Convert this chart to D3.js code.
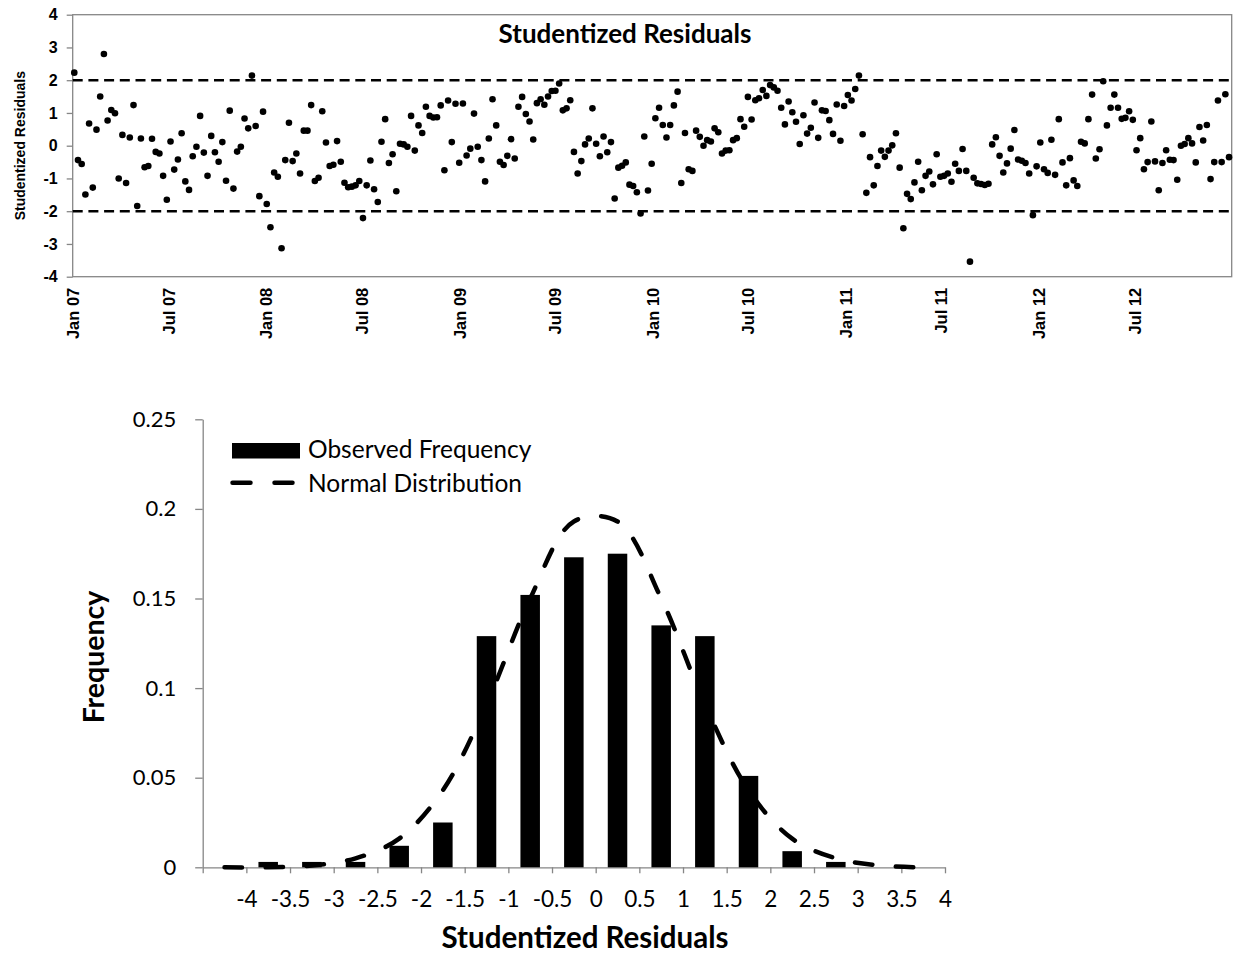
<!DOCTYPE html>
<html>
<head>
<meta charset="utf-8">
<script src="https://cdn.jsdelivr.net/npm/d3@7"></script>
<style>
  body { margin: 0; background: #fff; }
  svg { display: block; }
</style>
</head>
<body>
<div id="chart"></div>
<script>
// weekly studentized residuals, first week starting 4 Jan 2007
const firstWeek = "2007-01-04";
const residuals = [
  2.23, -0.44, -0.56, -1.49, 0.68, -1.28, 0.49, 1.50, 2.80, 0.77,
  1.09, 0.99, -1.00, 0.33, -1.14, 0.25, 1.24, -1.84, 0.22, -0.66,
  -0.62, 0.21, -0.19, -0.24, -0.92, -1.65, 0.13, -0.73, -0.42, 0.38,
  -1.09, -1.35, -0.32, -0.03, 0.91, -0.21, -0.92, 0.30, -0.20, -0.49,
  0.11, -1.07, 1.07, -1.31, -0.18, -0.03, 0.83, 0.53, 2.14, 0.60,
  -1.54, 1.04, -1.78, -2.49, -0.82, -0.95, -3.13, -0.44, 0.70, -0.47,
  -0.24, -0.85, 0.46, 0.46, 1.24, -1.08, -0.98, 1.05, 0.10, -0.62,
  -0.58, 0.14, -0.49, -1.13, -1.27, -1.25, -1.21, -1.08, -2.21, -1.21,
  -0.45, -1.33, -1.72, 0.12, 0.81, -0.53, -0.26, -1.39, 0.06, 0.04,
  -0.03, 0.91, -0.15, 0.62, 0.39, 1.19, 0.91, 0.86, 0.87, 1.23,
  -0.75, 1.38, 0.11, 1.28, -0.52, 1.29, -0.30, -0.09, 0.98, -0.03,
  -0.44, -1.09, 0.22, 1.42, 0.62, -0.49, -0.59, -0.31, 0.20, -0.39,
  1.19, 1.49, 0.97, 0.74, 0.19, 1.30, 1.42, 1.25, 1.50, 1.67,
  1.68, 1.90, 1.08, 1.14, 1.39, -0.19, -0.85, -0.47, 0.04, 0.22,
  1.14, 0.06, -0.32, 0.28, -0.20, 0.11, -1.61, -0.67, -0.61, -0.51,
  -1.19, -1.23, -1.42, -2.07, 0.28, -1.37, -0.55, 0.84, 1.16, 0.63,
  0.25, 0.63, 1.23, 1.65, -1.14, 0.39, -0.72, -0.77, 0.46, 0.27,
  0.00, 0.17, 0.13, 0.53, 0.41, -0.24, -0.15, -0.14, 0.17, 0.23,
  0.81, 0.58, 1.49, 0.80, 1.39, 1.45, 1.70, 1.52, 1.85, 1.78,
  1.68, 1.16, 0.65, 1.35, 1.02, 0.73, 0.05, 0.93, 0.37, 0.55,
  1.32, 0.24, 1.08, 1.06, 0.78, 0.36, 1.26, 0.15, 1.21, 1.55,
  1.38, 1.73, 2.14, 0.35, -1.44, -0.35, -1.21, -0.62, -0.15, -0.34,
  -0.15, 0.01, 0.38, -0.67, -2.52, -1.47, -1.63, -1.12, -0.49, -1.36,
  -0.92, -0.79, -1.18, -0.26, -0.95, -0.92, -0.85, -1.10, -0.55, -0.77,
  -0.10, -0.77, -3.54, -0.98, -1.15, -1.17, -1.20, -1.16, 0.04, 0.26,
  -0.31, -0.82, -0.54, -0.09, 0.48, -0.42, -0.46, -0.53, -0.85, -2.12,
  -0.63, 0.10, -0.72, -0.83, 0.18, -0.89, 0.81, -0.51, -1.21, -0.38,
  -1.06, -1.23, 0.12, 0.07, 0.81, 1.56, -0.39, -0.11, 1.97, 0.62,
  1.16, 1.56, 1.16, 0.82, 0.85, 1.05, 0.79, -0.14, 0.23, -0.72,
  -0.50, 0.74, -0.48, -1.36, -0.53, -0.14, -0.43, -0.44, -1.04, 0.00,
  0.05, 0.23, 0.07, -0.51, 0.57, 0.16, 0.63, -1.02, -0.50, 1.38,
  -0.50, 1.57, -0.35
];
const residTicks = [-4, -3, -2, -1, 0, 1, 2, 3, 4];
const limits = [-2, 2];

// histogram of the residuals
const binMids = [-4.25, -3.75, -3.25, -2.75, -2.25, -1.75, -1.25, -0.75, -0.25,
                 0.25, 0.75, 1.25, 1.75, 2.25, 2.75, 3.25, 3.75];
const observedFreq = [0, 0.003, 0.003, 0.003, 0.012, 0.025, 0.129, 0.152, 0.173,
                      0.175, 0.135, 0.129, 0.051, 0.009, 0.003, 0, 0];
const normalFreq = [0.000, 0.000, 0.001, 0.005, 0.016, 0.043, 0.091, 0.150, 0.193,
                    0.193, 0.150, 0.091, 0.043, 0.016, 0.005, 0.001, 0.000];
const binEdges = [-4.5, -4, -3.5, -3, -2.5, -2, -1.5, -1, -0.5, 0,
                  0.5, 1, 1.5, 2, 2.5, 3, 3.5, 4];
const freqTicks = [0, 0.05, 0.1, 0.15, 0.2, 0.25];

const axisGrey = "#868686";
const arial = "'Liberation Sans', Arial, sans-serif";
const calibri = "Lato, 'Open Sans', sans-serif";

const svg = d3.select("#chart")
  .append("svg")
  .attr("width", 1238)
  .attr("height", 956)
  .style("background", "#fff");

// ---------- top: residuals over time ----------
const parseDate = d3.timeParse("%Y-%m-%d");
const start = parseDate(firstWeek);
const series = residuals.map((v, i) => ({ date: d3.timeWeek.offset(start, i), value: v }));

const tStart = new Date(2007, 0, 1);
const tEnd = new Date(2013, 0, 1);
const xTime = d3.scaleTime().domain([tStart, tEnd]).range([72.7, 1231.7]);
const yRes = d3.scaleLinear().domain([-4, 4]).range([276.7, 14.7]);

const topChart = svg.append("g").attr("class", "top-chart");

topChart.append("rect")
  .attr("x", xTime.range()[0])
  .attr("y", yRes.range()[1])
  .attr("width", xTime.range()[1] - xTime.range()[0])
  .attr("height", yRes.range()[0] - yRes.range()[1])
  .attr("fill", "none")
  .attr("stroke", axisGrey)
  .attr("stroke-width", 1.3);

const yAxisTop = topChart.append("g")
  .attr("transform", `translate(${xTime.range()[0]},0)`)
  .call(d3.axisLeft(yRes).tickValues(residTicks).tickSize(6).tickSizeOuter(0)
    .tickPadding(9).tickFormat(d => String(d)));
yAxisTop.select(".domain").remove();
yAxisTop.selectAll("line").attr("stroke", axisGrey).attr("stroke-width", 1.3);
yAxisTop.selectAll("text")
  .attr("font-family", arial).attr("font-weight", "bold").attr("font-size", 16).attr("fill", "#000");

const monthTicks = xTime.ticks(d3.timeMonth.every(6)).filter(d => d < tEnd);
const xAxisTop = topChart.append("g")
  .attr("transform", `translate(0,${yRes.range()[0]})`)
  .call(d3.axisBottom(xTime).tickValues(monthTicks).tickSize(0)
    .tickFormat(d3.timeFormat("%b %y")));
xAxisTop.select(".domain").remove();
xAxisTop.selectAll("text")
  .attr("transform", "rotate(-90)")
  .attr("text-anchor", "end")
  .attr("x", -11)
  .attr("y", 0)
  .attr("dy", "0.36em")
  .attr("font-family", arial).attr("font-weight", "bold").attr("font-size", 16.5).attr("fill", "#000");

topChart.selectAll("line.limit")
  .data(limits)
  .enter()
  .append("line")
  .attr("class", "limit")
  .attr("x1", xTime.range()[0])
  .attr("x2", xTime.range()[1])
  .attr("y1", d => yRes(d))
  .attr("y2", d => yRes(d))
  .attr("stroke", "#000")
  .attr("stroke-width", 2.5)
  .attr("stroke-dasharray", "10,5.7");

topChart.selectAll("circle")
  .data(series)
  .enter()
  .append("circle")
  .attr("cx", d => xTime(d.date))
  .attr("cy", d => yRes(d.value))
  .attr("r", 3.3)
  .attr("fill", "#000");

topChart.append("text")
  .attr("x", 625)
  .attr("y", 43)
  .attr("text-anchor", "middle")
  .attr("font-family", calibri).attr("font-weight", "bold").attr("font-size", 26)
  .text("Studentized Residuals");

topChart.append("text")
  .attr("transform", `translate(25,${yRes(0)}) rotate(-90)`)
  .attr("text-anchor", "middle")
  .attr("font-family", arial).attr("font-weight", "bold").attr("font-size", 14)
  .text("Studentized Residuals");

// ---------- bottom: histogram vs normal ----------
const xRes = d3.scaleLinear().domain([-4.5, 4]).range([202.7, 945]);
const yFreq = d3.scaleLinear().domain([0, 0.25]).range([867.3, 419.3]);
const barWidth = 19.5;

const histChart = svg.append("g").attr("class", "hist-chart");

const yAxisBottom = histChart.append("g")
  .attr("transform", `translate(${xRes.range()[0]},0)`)
  .call(d3.axisLeft(yFreq).tickValues(freqTicks).tickSize(7.5).tickSizeOuter(0)
    .tickPadding(19).tickFormat(d => String(d)));
yAxisBottom.selectAll("path, line").attr("stroke", axisGrey).attr("stroke-width", 1.3);
yAxisBottom.selectAll("text")
  .attr("font-family", calibri).attr("font-size", 22).attr("fill", "#000");

const xAxisBottom = histChart.append("g")
  .attr("transform", `translate(0,${yFreq.range()[0]})`)
  .call(d3.axisBottom(xRes).tickValues(binEdges).tickSize(6).tickSizeOuter(0)
    .tickPadding(18).tickFormat(d => d === binEdges[0] ? "" : String(d)));
xAxisBottom.selectAll("path, line").attr("stroke", axisGrey).attr("stroke-width", 1.3);
xAxisBottom.selectAll("text")
  .attr("font-family", calibri).attr("font-size", 22.5).attr("fill", "#000");

histChart.selectAll("rect.bar")
  .data(binMids)
  .enter()
  .append("rect")
  .attr("class", "bar")
  .attr("x", d => xRes(d) - barWidth / 2)
  .attr("y", (d, i) => yFreq(observedFreq[i]))
  .attr("width", barWidth)
  .attr("height", (d, i) => yFreq(0) - yFreq(observedFreq[i]))
  .attr("fill", "#000");

const normalLine = d3.line()
  .x(d => xRes(d[0]))
  .y(d => yFreq(d[1]))
  .curve(d3.curveCatmullRom);

histChart.append("path")
  .datum(binMids.map((m, i) => [m, normalFreq[i]]))
  .attr("d", normalLine)
  .attr("fill", "none")
  .attr("stroke", "#000")
  .attr("stroke-width", 4.5)
  .attr("stroke-linecap", "round")
  .attr("stroke-dasharray", "17.5,23.5");

// legend
const legend = histChart.append("g").attr("class", "legend");
legend.append("rect")
  .attr("x", 232).attr("y", 443).attr("width", 68).attr("height", 15.5)
  .attr("fill", "#000");
legend.append("text")
  .attr("x", 308).attr("y", 458.3)
  .attr("font-family", calibri).attr("font-size", 24.5)
  .text("Observed Frequency");
legend.append("line")
  .attr("x1", 232.5).attr("x2", 292.5).attr("y1", 482.7).attr("y2", 482.7)
  .attr("stroke", "#000").attr("stroke-width", 4.5)
  .attr("stroke-linecap", "round").attr("stroke-dasharray", "18,24");
legend.append("text")
  .attr("x", 308).attr("y", 491.7)
  .attr("font-family", calibri).attr("font-size", 24.5)
  .text("Normal Distribution");

// axis titles
histChart.append("text")
  .attr("x", 585).attr("y", 948)
  .attr("text-anchor", "middle")
  .attr("font-family", calibri).attr("font-weight", "bold").attr("font-size", 29.5)
  .text("Studentized Residuals");

histChart.append("text")
  .attr("transform", "translate(104,657) rotate(-90)")
  .attr("text-anchor", "middle")
  .attr("font-family", calibri).attr("font-weight", "bold").attr("font-size", 28.5)
  .text("Frequency");
</script>
</body>
</html>
